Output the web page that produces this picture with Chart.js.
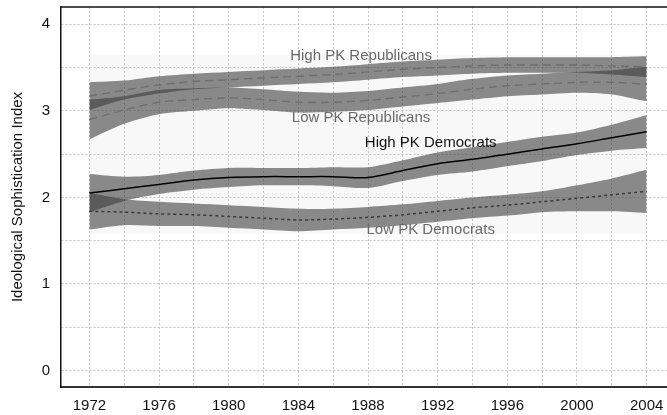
<!DOCTYPE html>
<html>
<head>
<meta charset="utf-8">
<script src="https://cdn.jsdelivr.net/npm/chart.js@4"></script>
<style>
html,body{margin:0;padding:0;background:#fff;}
#wrap{width:667px;height:415px;}
</style>
</head>
<body>
<div id="wrap"><canvas id="chart"></canvas></div>
<script>
// survey years (every two years)
var years = [1972, 1974, 1976, 1978, 1980, 1982, 1984, 1986, 1988, 1990, 1992, 1994, 1996, 1998, 2000, 2002, 2004];
// smoothed index and half width of the grey band around it
var highRep   = [3.17, 3.24, 3.30, 3.34, 3.36, 3.38, 3.40, 3.42, 3.45, 3.48, 3.50, 3.52, 3.53, 3.53, 3.53, 3.52, 3.51];
var highRepCI = [0.16, 0.11, 0.10, 0.09, 0.09, 0.09, 0.09, 0.09, 0.09, 0.09, 0.09, 0.09, 0.09, 0.09, 0.09, 0.10, 0.12];
var lowRep    = [2.90, 3.01, 3.10, 3.13, 3.15, 3.13, 3.10, 3.10, 3.12, 3.16, 3.20, 3.25, 3.29, 3.31, 3.33, 3.33, 3.31];
var lowRepCI  = [0.23, 0.16, 0.14, 0.13, 0.12, 0.12, 0.12, 0.11, 0.11, 0.11, 0.11, 0.12, 0.12, 0.12, 0.12, 0.14, 0.20];
var highDem   = [2.05, 2.10, 2.15, 2.20, 2.23, 2.24, 2.24, 2.24, 2.23, 2.31, 2.39, 2.44, 2.50, 2.56, 2.62, 2.69, 2.76];
var highDemCI = [0.22, 0.14, 0.11, 0.11, 0.11, 0.10, 0.10, 0.11, 0.12, 0.12, 0.13, 0.14, 0.14, 0.14, 0.13, 0.15, 0.19];
var lowDem    = [1.84, 1.83, 1.81, 1.80, 1.78, 1.76, 1.74, 1.75, 1.77, 1.80, 1.84, 1.88, 1.91, 1.95, 1.99, 2.03, 2.07];
var lowDemCI  = [0.21, 0.15, 0.14, 0.13, 0.13, 0.13, 0.13, 0.12, 0.12, 0.12, 0.12, 0.12, 0.12, 0.12, 0.15, 0.19, 0.25];
var seriesNames = ['High PK Republicans', 'Low PK Republicans', 'High PK Democrats', 'Low PK Democrats'];

var FONT = "'Liberation Sans', Arial, sans-serif";
var bandColor = 'rgba(60,60,60,0.59)';
var SMOOTH = 0.3;

function pts(vals, ci, sign) {
    return vals.map(function (v, i) {
        return {x: years[i], y: ci ? v + sign * ci[i] : v};
    });
}

var series = [
    {name: seriesNames[0], v: highRep, ci: highRepCI, color: '#6e6e6e', dash: [8, 5], width: 1.4},
    {name: seriesNames[1], v: lowRep, ci: lowRepCI, color: '#6e6e6e', dash: [8, 5], width: 1.4},
    {name: seriesNames[2], v: highDem, ci: highDemCI, color: '#000000', dash: [], width: 1.5},
    {name: seriesNames[3], v: lowDem, ci: lowDemCI, color: '#3a3a3a', dash: [3, 3], width: 1.5}
];

var datasets = [];
series.forEach(function (s) {
    datasets.push({
        label: s.name, data: pts(s.v), borderColor: s.color, borderDash: s.dash,
        borderWidth: s.width, pointRadius: 0, fill: false, tension: SMOOTH
    });
});
series.forEach(function (s) {
    var up = datasets.length;
    datasets.push({
        label: s.name + ' upper', data: pts(s.v, s.ci, 1), borderWidth: 0,
        pointRadius: 0, fill: false, tension: SMOOTH
    });
    datasets.push({
        label: s.name + ' lower', data: pts(s.v, s.ci, -1), borderWidth: 0,
        pointRadius: 0, fill: up, backgroundColor: bandColor, tension: SMOOTH
    });
});

// curve labels, placed in data units
var notes = [
    {text: seriesNames[0], x: 1987.6, y: 3.63, color: '#6a6a6a'},
    {text: seriesNames[1], x: 1987.6, y: 2.92, color: '#6a6a6a'},
    {text: seriesNames[2], x: 1991.6, y: 2.63, color: '#111111'},
    {text: seriesNames[3], x: 1991.6, y: 1.62, color: '#6a6a6a'}
];

var decor = {
    id: 'decor',
    beforeDraw: function (chart) {
        var c = chart.ctx, x = chart.scales.x, y = chart.scales.y;
        c.save();
        c.fillStyle = '#f8f8f8';
        var t = y.getPixelForValue(3.65), b = y.getPixelForValue(1.58);
        c.fillRect(x.getPixelForValue(1972), t, x.getPixelForValue(2004) - x.getPixelForValue(1972), b - t);
        c.restore();
    },
    afterDraw: function (chart) {
        var c = chart.ctx, a = chart.chartArea, x = chart.scales.x, y = chart.scales.y;
        c.save();
        c.strokeStyle = '#111';
        c.lineWidth = 1.5;
        c.beginPath();
        c.moveTo(a.left, a.top);
        c.lineTo(a.right, a.top);
        c.stroke();
        c.font = '15px ' + FONT;
        c.textAlign = 'center';
        c.textBaseline = 'middle';
        notes.forEach(function (n) {
            c.fillStyle = n.color;
            c.fillText(n.text, x.getPixelForValue(n.x), y.getPixelForValue(n.y));
        });
        c.restore();
    }
};

new Chart(document.getElementById('chart'), {
    type: 'line',
    data: {datasets: datasets},
    plugins: [decor],
    options: {
        responsive: true,
        maintainAspectRatio: false,
        animation: false,
        layout: {padding: {top: 7, right: 0, left: 0, bottom: 0}},
        plugins: {
            legend: {display: false},
            tooltip: {enabled: false},
            filler: {drawTime: 'beforeDatasetsDraw'}
        },
        scales: {
            x: {
                type: 'linear', min: 1970.37, max: 2005.17,
                afterFit: function (s) { s.height = 28; s.paddingLeft = 0; s.paddingRight = 0; },
                ticks: {
                    stepSize: 2, includeBounds: false, padding: 10, autoSkip: false, maxRotation: 0,
                    color: '#111', font: {family: FONT, size: 15},
                    callback: function (v) { return v % 4 === 0 ? String(v) : ''; }
                },
                grid: {color: '#c4c4c4', lineWidth: 1, drawTicks: false},
                border: {color: '#333', width: 2, dash: [2, 2]}
            },
            y: {
                min: -0.19, max: 4.2,
                afterFit: function (s) { s.width = 61; s.paddingTop = 0; s.paddingBottom = 0; },
                ticks: {
                    stepSize: 0.5, includeBounds: false, padding: 11, color: '#111',
                    font: {family: FONT, size: 15},
                    callback: function (v) { return Number.isInteger(v) ? String(v) : ''; }
                },
                grid: {color: '#c4c4c4', lineWidth: 1, drawTicks: false},
                border: {color: '#111', width: 1.5, dash: [2, 2]},
                title: {
                    display: true, text: 'Ideological Sophistication Index', color: '#111',
                    font: {family: FONT, size: 15}, padding: {top: 9, bottom: 0}
                }
            }
        }
    }
});
</script>
</body>
</html>
